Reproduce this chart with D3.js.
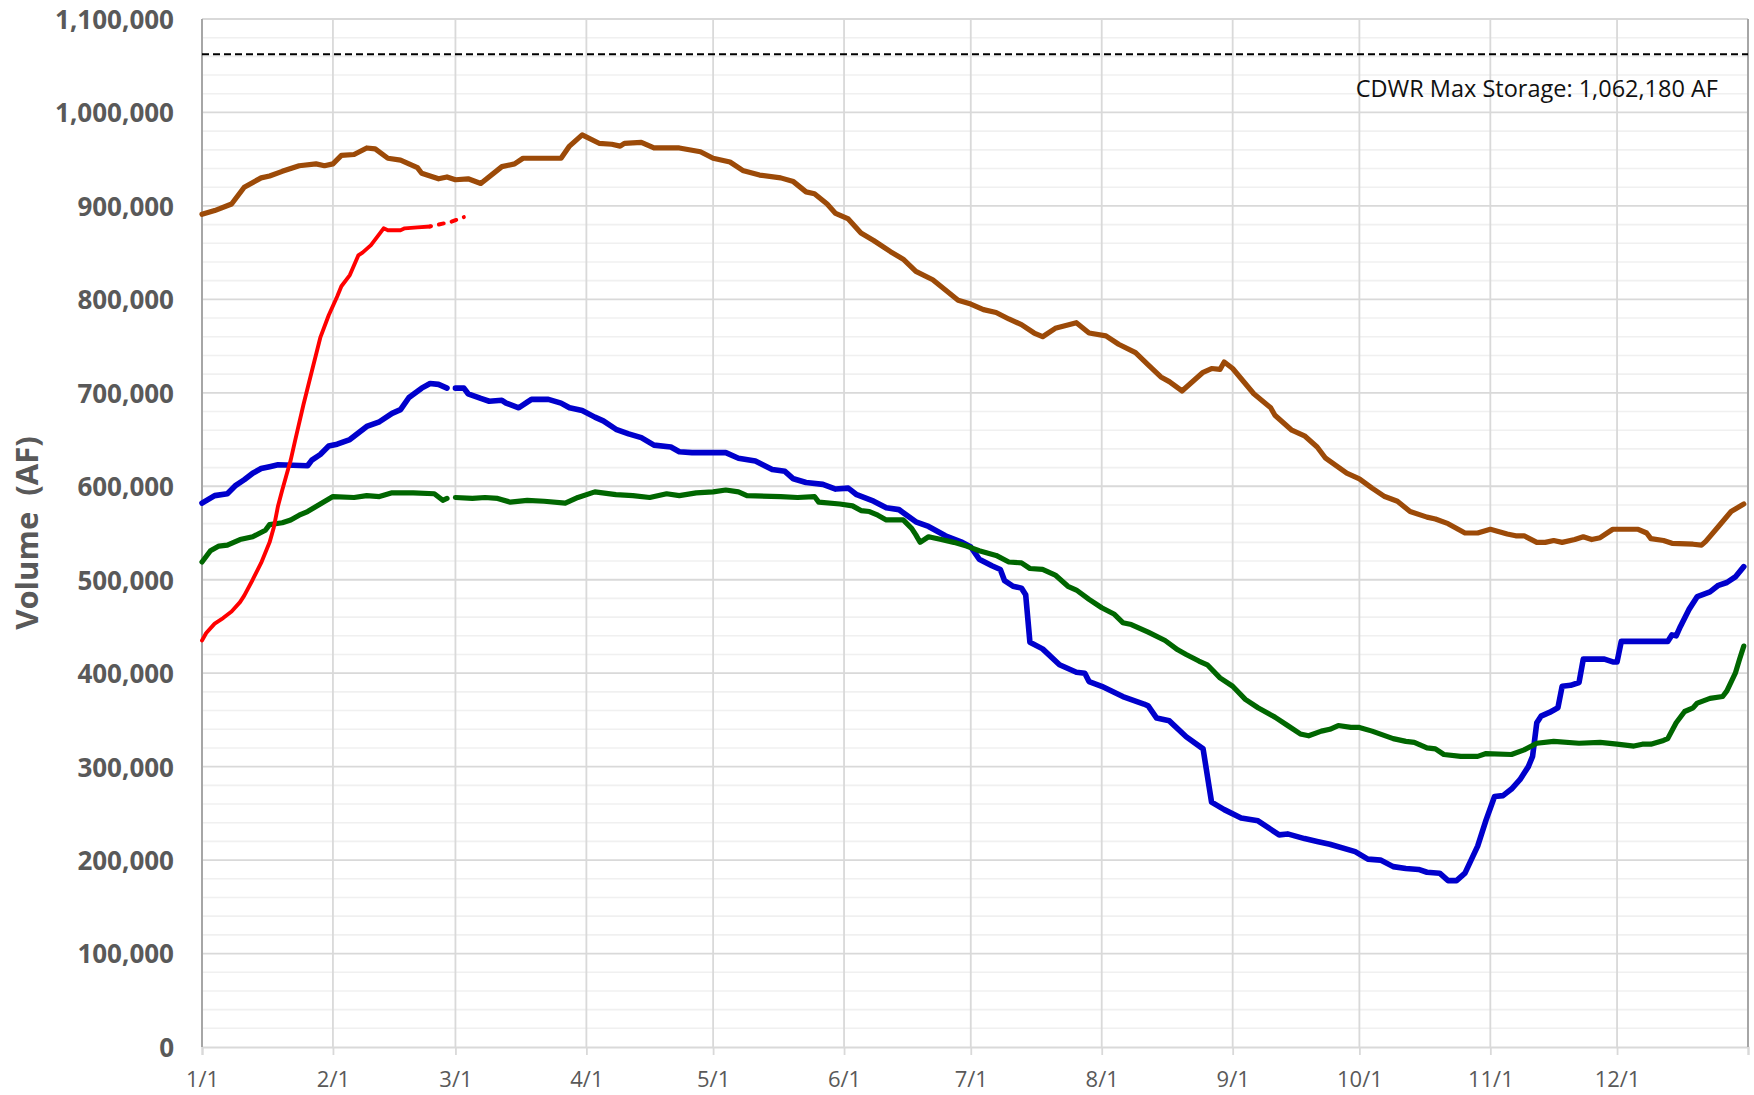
<!DOCTYPE html>
<html><head><meta charset="utf-8">
<script src="https://cdn.jsdelivr.net/npm/d3@7"></script>
<style>
html,body{margin:0;padding:0;background:#fff;}
svg{display:block;font-family:"Open Sans",sans-serif;}
</style></head><body>
<svg id="chart" width="1754" height="1095"></svg>
<script>
// ---------- DATA ----------
const year = 2024; // leap-year calendar (Feb 29 is the gap)
const monthLabels = ["1/1","2/1","3/1","4/1","5/1","6/1","7/1","8/1","9/1","10/1","11/1","12/1"];
const yTicks = [0,100000,200000,300000,400000,500000,600000,700000,800000,900000,1000000,1100000];
const yMax = 1100000;
const maxStorage = 1062180;
const maxStorageLabel = "CDWR Max Storage: 1,062,180 AF";
const yTitle = "Volume  (AF)";

// [day of year (0 = 1/1), volume AF]; null = no data
const brownSeries = [[0,891000],[3,895000],[7,902000],[10,920000],[14,930000],[16,932000],[19,937000],[23,943000],[27,945000],[29,943000],[31,945000],[33,954000],[36,955000],[39,962000],[41,961000],[44,951000],[47,949000],[51,941000],[52,935000],[56,929000],[58,931000],[60,928000],[63,929000],[66,924000],[71,942000],[74,945000],[76,951000],[81,951000],[85,951000],[87,964000],[90,976000],[94,967000],[97,966000],[99,964000],[100,967000],[104,968000],[107,962000],[113,962000],[118,958000],[121,951000],[125,947000],[128,938000],[132,933000],[137,930000],[140,926000],[143,915000],[145,913000],[148,902000],[150,892000],[153,886000],[156,871000],[159,863000],[163,851000],[166,843000],[169,830000],[173,821000],[176,810000],[179,799000],[182,795000],[185,789000],[188,786000],[191,779000],[194,773000],[197,764000],[199,760000],[202,769000],[207,775000],[210,764000],[214,761000],[217,752000],[221,743000],[224,730000],[227,717000],[229,712000],[232,702000],[237,722000],[239,726000],[241,725000],[242,733000],[244,726000],[249,699000],[253,684000],[254,676000],[258,660000],[261,654000],[264,642000],[266,630000],[271,614000],[274,608000],[277,598000],[280,589000],[283,584000],[286,573000],[290,567000],[292,565000],[295,560000],[299,550000],[302,550000],[305,554000],[309,549000],[311,547000],[313,547000],[316,540000],[318,540000],[320,542000],[322,540000],[325,543000],[327,546000],[329,543000],[331,545000],[334,554000],[340,554000],[342,550000],[343,544000],[346,542000],[348,539000],[353,538000],[355,537000],[356,541000],[359,557000],[362,573000],[365,581000]];

const blueSeries = [[0,582000],[3,590000],[6,592000],[8,601000],[10,607000],[12,614000],[14,619000],[16,621000],[18,623000],[25,622000],[26,628000],[28,634000],[30,643000],[32,645000],[35,650000],[37,657000],[39,664000],[42,669000],[45,678000],[47,682000],[49,695000],[52,705000],[54,710000],[56,709000],[58,705000],[59,null],[60,705000],[62,705000],[63,699000],[66,694000],[68,691000],[71,692000],[72,689000],[75,684000],[77,690000],[78,693000],[82,693000],[85,689000],[87,684000],[90,681000],[93,674000],[95,670000],[98,661000],[101,656000],[104,652000],[107,644000],[111,642000],[113,637000],[116,636000],[124,636000],[127,630000],[131,627000],[135,618000],[138,616000],[140,608000],[143,604000],[147,602000],[150,597000],[153,598000],[155,591000],[159,584000],[162,577000],[165,575000],[169,562000],[172,557000],[176,547000],[180,540000],[182,535000],[184,522000],[187,515000],[189,511000],[190,499000],[192,493000],[194,491000],[195,484000],[196,433000],[199,426000],[203,409000],[207,401000],[209,400000],[210,391000],[213,386000],[218,375000],[223,367000],[224,365000],[226,352000],[229,349000],[233,332000],[237,319000],[239,262000],[242,254000],[246,245000],[250,242000],[253,233000],[255,227000],[257,228000],[261,223000],[264,220000],[267,217000],[273,209000],[276,201000],[279,200000],[282,193000],[285,191000],[288,190000],[290,187000],[293,186000],[295,178000],[297,178000],[299,186000],[302,215000],[304,243000],[306,268000],[308,269000],[310,276000],[312,286000],[314,300000],[315,311000],[316,347000],[317,354000],[319,358000],[321,363000],[322,386000],[324,387000],[326,390000],[327,415000],[332,415000],[334,412000],[335,412000],[336,434000],[347,434000],[348,441000],[349,440000],[350,450000],[352,468000],[354,482000],[357,487000],[359,494000],[361,497000],[363,503000],[365,514000]];

const greenSeries = [[0,519000],[2,531000],[4,536000],[6,537000],[9,543000],[12,546000],[15,553000],[16,559000],[19,561000],[21,564000],[23,569000],[25,573000],[28,581000],[31,589000],[36,588000],[39,590000],[42,589000],[45,593000],[50,593000],[55,592000],[57,585000],[58,587000],[59,null],[60,588000],[64,587000],[67,588000],[70,587000],[73,583000],[77,585000],[81,584000],[86,582000],[89,588000],[93,594000],[98,591000],[102,590000],[106,588000],[110,592000],[113,590000],[117,593000],[121,594000],[124,596000],[127,594000],[129,590000],[137,589000],[141,588000],[145,589000],[146,583000],[151,581000],[154,579000],[156,574000],[158,573000],[160,569000],[162,564000],[166,564000],[168,555000],[169,548000],[170,540000],[172,546000],[175,543000],[178,540000],[181,536000],[184,531000],[188,526000],[191,519000],[194,518000],[196,512000],[199,511000],[202,505000],[205,493000],[207,489000],[210,479000],[213,470000],[216,463000],[218,454000],[220,452000],[224,444000],[228,435000],[231,425000],[233,420000],[236,413000],[238,409000],[241,395000],[244,386000],[247,372000],[250,363000],[254,353000],[257,344000],[260,335000],[262,333000],[265,338000],[267,340000],[269,344000],[272,342000],[274,342000],[277,338000],[282,330000],[285,327000],[287,326000],[290,320000],[292,319000],[294,313000],[298,311000],[302,311000],[304,314000],[310,313000],[313,318000],[316,325000],[320,327000],[326,325000],[331,326000],[335,324000],[339,322000],[341,324000],[343,324000],[346,328000],[347,330000],[349,347000],[351,359000],[353,363000],[354,368000],[357,373000],[360,375000],[361,381000],[363,400000],[364,415000],[365,429000]];

const redSeries = [[0,435000],[1,443000],[3,453000],[5,459000],[7,466000],[9,476000],[10,483000],[12,500000],[14,518000],[16,540000],[17,556000],[18,579000],[19,596000],[20,612000],[21,628000],[22,648000],[24,687000],[26,723000],[28,759000],[30,783000],[32,803000],[33,814000],[35,826000],[37,847000],[38,850000],[40,858000],[43,876000],[44,874000],[47,874000],[48,876000],[51,877000],[54,878000]];
const redProvisional = [[54,878000],[56,880000],[59,883000],[62,888000]];

// ---------- CHART ----------
const W = 1754, H = 1095;
const m = {left:202, right:1748, top:19, bottom:1047};
const svg = d3.select("#chart");
svg.append("rect").attr("width",W).attr("height",H).attr("fill","#fff");

const dayToDate = d => new Date(year, 0, 1 + d);
const x = d3.scaleTime().domain([new Date(year,0,1), new Date(year+1,0,1)]).range([m.left, m.right]);
const y = d3.scaleLinear().domain([0, yMax]).range([m.bottom, m.top]);
const monthDates = monthLabels.map((_, i) => new Date(year, i, 1));

// minor gridlines
const minor = d3.range(0, yMax + 1, 20000).filter(v => v % 100000 !== 0);
svg.append("g").selectAll("line").data(minor).join("line")
  .attr("x1", m.left).attr("x2", m.right)
  .attr("y1", d => y(d)).attr("y2", d => y(d))
  .attr("stroke", "#f0f0f0").attr("stroke-width", 1.6);
// major gridlines
svg.append("g").selectAll("line").data(yTicks.filter(v => v > 0)).join("line")
  .attr("x1", m.left).attr("x2", m.right)
  .attr("y1", d => y(d)).attr("y2", d => y(d))
  .attr("stroke", "#d9d9d9").attr("stroke-width", 1.8);
// vertical gridlines
svg.append("g").selectAll("line").data(monthDates.slice(1)).join("line")
  .attr("x1", d => x(d)).attr("x2", d => x(d))
  .attr("y1", m.top).attr("y2", m.bottom)
  .attr("stroke", "#d9d9d9").attr("stroke-width", 1.8);

// x axis
const xAxis = d3.axisBottom(x)
  .tickValues(monthDates.concat([new Date(year+1,0,1)]))
  .tickFormat((d, i) => monthLabels[i] || "")
  .tickSize(8);
const gx = svg.append("g").attr("transform", `translate(0,${m.bottom})`).call(xAxis);
gx.select(".domain").attr("stroke", "#d9d9d9").attr("stroke-width", 2);
gx.selectAll(".tick line").attr("stroke", "#d9d9d9").attr("stroke-width", 1.8);
gx.selectAll(".tick text").attr("y", 40).attr("dy", 0)
  .attr("fill", "#595959").attr("font-size", 22).attr("font-family", "'Open Sans',sans-serif");

// y axis
const yAxis = d3.axisLeft(y).tickValues(yTicks).tickFormat(d3.format(",")).tickSize(0).tickPadding(28);
const gy = svg.append("g").attr("transform", `translate(${m.left},0)`).call(yAxis);
gy.select(".domain").remove();
gy.selectAll(".tick text").attr("dy", "0.36em")
  .attr("fill", "#595959").attr("font-size", 26).attr("font-weight", "bold")
  .attr("font-family", "'Open Sans',sans-serif");

// borders
svg.append("line").attr("x1", m.left).attr("x2", m.left).attr("y1", m.top).attr("y2", m.bottom)
  .attr("stroke", "#a6a6a6").attr("stroke-width", 2);
svg.append("line").attr("x1", m.right).attr("x2", m.right).attr("y1", m.top).attr("y2", m.bottom)
  .attr("stroke", "#a6a6a6").attr("stroke-width", 2);

// y title
svg.append("text")
  .attr("transform", `translate(38,533) rotate(-90)`)
  .attr("text-anchor", "middle")
  .style("white-space", "pre")
  .attr("fill", "#595959").attr("font-size", 31).attr("font-weight", "bold")
  .text(yTitle);

// max storage line
svg.append("line")
  .attr("x1", m.left).attr("x2", m.right)
  .attr("y1", y(maxStorage)).attr("y2", y(maxStorage))
  .attr("stroke", "#000").attr("stroke-width", 2).attr("stroke-dasharray", "7,4");
svg.append("text")
  .attr("x", 1718).attr("y", y(maxStorage) + 43)
  .attr("text-anchor", "end").attr("fill", "#111").attr("font-size", 23.5)
  .text(maxStorageLabel);

// series
const line = d3.line()
  .defined(d => d[1] !== null)
  .x(d => x(dayToDate(d[0])))
  .y(d => y(d[1]));
const seriesList = [
  {data: brownSeries, color: "#9c4a08", width: 5.2},
  {data: blueSeries, color: "#0000cc", width: 5.6},
  {data: greenSeries, color: "#006600", width: 5.2},
  {data: redSeries, color: "#ff0000", width: 3.9}
];
svg.append("g").selectAll("path").data(seriesList).join("path")
  .attr("d", d => line(d.data))
  .attr("fill", "none")
  .attr("stroke", d => d.color)
  .attr("stroke-width", d => d.width)
  .attr("stroke-linejoin", "round").attr("stroke-linecap", "round");
svg.append("path")
  .attr("d", line(redProvisional))
  .attr("fill", "none").attr("stroke", "#ff0000").attr("stroke-width", 3.9)
  .attr("stroke-linecap", "round").attr("stroke-dasharray", "5,8").attr("stroke-dashoffset", -9);
</script>
</body></html>
